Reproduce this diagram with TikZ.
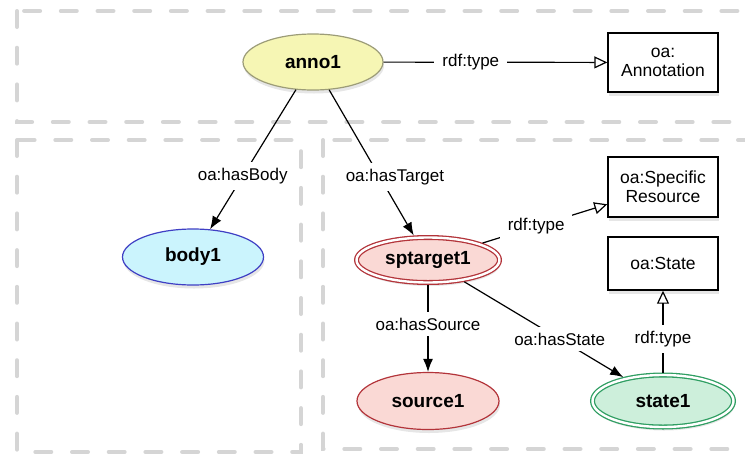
\documentclass[tikz,border=0pt]{standalone}
\usepackage{fontspec}
\setmainfont{Liberation Sans}
\usetikzlibrary{arrows.meta,shapes.geometric,shadows}
\definecolor{annofill}{HTML}{F6F6B4}
\definecolor{annoline}{HTML}{9C9C78}
\definecolor{bodyfill}{HTML}{CBF4FD}
\definecolor{bodyline}{HTML}{3F3FC4}
\definecolor{targetfill}{HTML}{FAD9D5}
\definecolor{targetline}{HTML}{B3343A}
\definecolor{statefill}{HTML}{CDEFDB}
\definecolor{stateline}{HTML}{2F9E62}
\definecolor{framegray}{HTML}{D5D5D5}

\begin{document}
\begin{tikzpicture}[x=1pt,y=-1pt,
    res/.style={ellipse,draw,line width=1.2pt,inner sep=0pt,
      font=\fontsize{19}{22}\selectfont\bfseries,
      drop shadow={opacity=0.2,shadow xshift=1pt,shadow yshift=-3.5pt}},
    dbl/.style={double=white,double distance=2.4pt,line width=1.3pt,outer sep=2.5pt},
    cls/.style={rectangle,draw,line width=1.4pt,fill=white,minimum width=110pt,
      align=center,font=\fontsize{17.5}{19}\selectfont,
      drop shadow={opacity=0.2,shadow xshift=1pt,shadow yshift=-3.5pt}},
    rel/.style={line width=1.2pt,-{Latex[length=13pt,width=10pt]}},
    typ/.style={line width=1.2pt,-{Triangle[open,length=13pt,width=12pt]}},
    lbl/.style={fill=white,inner xsep=8pt,inner ysep=6pt,font=\fontsize{17}{19}\selectfont},
    frame/.style={draw=framegray,line width=4pt,line cap=round,dash pattern=on 16pt off 20.7pt}]

    \useasboundingbox (0,0) rectangle (745,456);
    \clip (0,0) rectangle (745,456);

    \draw[frame] (17,11) rectangle (780,122);
    \draw[frame] (17,140) rectangle (301,452);
    \draw[frame] (323,140) rectangle (780,449);

    \node[res,fill=annofill,draw=annoline,minimum width=140pt,minimum height=56pt] (anno1) at (313,62) {anno1};
    \node[cls,minimum height=59pt] (annotation) at (663,62.5) {oa:\\Annotation};
    \node[res,fill=bodyfill,draw=bodyline,minimum width=141pt,minimum height=56pt] (body1) at (193,257) {body1};
    \node[res,dbl,fill=targetfill,draw=targetline,minimum width=143pt,minimum height=45pt] (sptarget1) at (428,260) {sptarget1};
    \node[cls,minimum height=60pt] (specres) at (663,187) {oa:Specific\\Resource};
    \node[cls,minimum height=53pt] (state) at (663,263.5) {oa:State};
    \node[res,fill=targetfill,draw=targetline,minimum width=142pt,minimum height=57pt] (source1) at (428,401) {source1};
    \node[res,dbl,fill=statefill,draw=stateline,minimum width=141pt,minimum height=52pt] (state1) at (663,401) {state1};

    \draw[typ] (anno1) -- node[lbl,pos=0.39] {rdf:type} (annotation);
    \draw[rel] (anno1) -- node[lbl,pos=0.62] {oa:hasBody} (body1);
    \draw[rel] (anno1) -- node[lbl,pos=0.6,xshift=15pt] {oa:hasTarget} (sptarget1);
    \draw[typ] (sptarget1) -- node[lbl,pos=0.43] {rdf:type} (specres);
    \draw[rel] (sptarget1) -- node[lbl,pos=0.45] {oa:hasSource} (source1);
    \draw[rel] (sptarget1) -- node[lbl,pos=0.6] {oa:hasState} (state1);
    \draw[typ] (state1) -- node[lbl,pos=0.41] {rdf:type} (state);

\end{tikzpicture}
\end{document}
